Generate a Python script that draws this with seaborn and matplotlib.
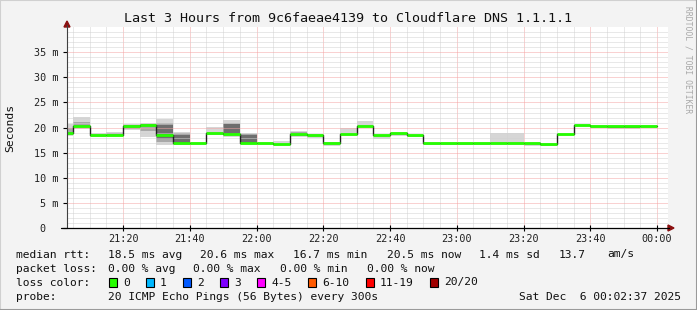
import numpy as np
import pandas as pd
import matplotlib
matplotlib.use("Agg")
import matplotlib.pyplot as plt
import seaborn as sns
from matplotlib.lines import Line2D
from matplotlib.patches import Polygon, Rectangle

# ---------------- data ----------------
# 5-minute steps starting 21:00 (minutes after 21:00), last step ends 00:00
step_start_min = list(range(0, 180, 5))
median_ms = [18.9, 20.3, 18.6, 18.6, 20.3, 20.5, 18.5, 16.9, 16.9, 18.9,
             18.7, 17.0, 17.0, 16.8, 18.7, 18.6, 17.0, 18.7, 20.3, 18.5,
             18.9, 18.5, 16.9, 16.9, 16.9, 16.9, 16.9, 17.0, 16.9, 16.8,
             18.7, 20.5, 20.3, 20.3, 20.3, 20.3]
nan = np.nan
outer_lo = [18.3, 19.8, 18.2, 18.3, 19.5, 18.2, 16.5, 16.5, nan, 18.5,
            18.2, 16.8, nan, 16.5, 18.1, 18.0, 16.3, 18.5, 20.1, 17.7,
            18.3, 18.2, 16.5, 16.5, 16.5, 16.5, 16.8, 16.8, 16.3, 16.3,
            nan, nan, 19.9, 19.8, 19.8, 19.9]
outer_hi = [20.8, 22.1, 18.9, 19.2, 20.7, 20.9, 21.8, 19.1, nan, 20.1,
            21.5, 18.9, nan, 17.3, 19.3, 18.8, 17.2, 19.9, 21.3, 18.5,
            18.9, 18.6, 16.9, 16.9, 16.9, 16.9, 19.0, 19.0, 16.9, 16.9,
            nan, nan, 20.3, 20.3, 20.3, 20.3]
mid_lo = [18.5, 20.2, nan, 18.5, 19.7, 19.4, 17.2, 16.8, nan, nan,
          18.5, 16.9, nan, nan, 18.3, nan, nan, nan, nan, nan,
          nan, nan, nan, nan, nan, nan, nan, nan, nan, nan,
          nan, nan, nan, nan, nan, nan]
mid_hi = [20.0, 21.2, nan, 19.0, 20.5, 20.8, 21.0, 18.9, nan, nan,
          21.0, 18.8, nan, nan, 19.1, nan, nan, nan, nan, nan,
          nan, nan, nan, nan, nan, nan, nan, nan, nan, nan,
          nan, nan, nan, nan, nan, nan]
inner_lo = [nan, nan, nan, nan, nan, nan, 17.8, 17.0, nan, nan,
            18.7, 17.0, nan, nan, nan, nan, nan, nan, nan, nan,
            nan, nan, nan, nan, nan, nan, nan, nan, nan, nan,
            nan, nan, nan, 19.95, 19.95, nan]
inner_hi = [nan, nan, nan, nan, nan, nan, 20.6, 18.6, nan, nan,
            20.7, 18.6, nan, nan, nan, nan, nan, nan, nan, nan,
            nan, nan, nan, nan, nan, nan, nan, nan, nan, nan,
            nan, nan, nan, 20.15, 20.15, nan]

x_tick_min = [20, 40, 60, 80, 100, 120, 140, 160, 180]
x_tick_labels = ["21:20", "21:40", "22:00", "22:20", "22:40", "23:00", "23:20", "23:40", "00:00"]
y_ticks = [0, 5, 10, 15, 20, 25, 30, 35]
y_tick_labels = ["0  ", "5 m", "10 m", "15 m", "20 m", "25 m", "30 m", "35 m"]

title = "Last 3 Hours from 9c6faeae4139 to Cloudflare DNS 1.1.1.1"
legend_rows = [
    (254.5, [(16, "median rtt:"), (107.5, "18.5 ms avg"), (200, "20.6 ms max"),
             (293, "16.7 ms min"), (386.7, "20.5 ms now"), (479.3, "1.4 ms sd"),
             (558.3, "13.7"), (607.3, "am/s")]),
    (268.5, [(16, "packet loss:"), (107.5, "0.00 % avg"), (193, "0.00 % max"),
             (280, "0.00 % min"), (367, "0.00 % now")]),
    (282.5, [(16, "loss color:")]),
    (296.5, [(16, "probe:"), (107.5, "20 ICMP Echo Pings (56 Bytes) every 300s")]),
]
loss_labels = ["0", "1", "2", "3", "4-5", "6-10", "11-19", "20/20"]
loss_colors = ["#26ff00", "#00b8ff", "#0059ff", "#7e00ff", "#ff00ff", "#ff5a00", "#ff0000", "#a00000"]
loss_box_x = [108.5, 145.5, 182.5, 219.5, 256.5, 307.5, 366, 430]
loss_text_x = [123, 160, 197, 234, 271, 322.5, 380, 444]
date_text = "Sat Dec  6 00:02:37 2025"

# ---------------- figure ----------------
W, H = 697, 310
sns.set_style("white")
plt.rcParams["font.family"] = ["DejaVu Sans Mono"]
fig = plt.figure(figsize=(W / 100, H / 100), dpi=100)
fig.patch.set_facecolor("#f3f3f3")

def fx(px):
    return px / W

def fy(py):
    return 1 - py / H

ax_l, ax_r, ax_t, ax_b = 67, 668, 27.2, 228
ax = fig.add_axes([fx(ax_l), fy(ax_b), fx(ax_r - ax_l), (ax_b - ax_t) / H])
ax.set_facecolor("white")
ax.set_xlim(3.2, 183.3)
ax.set_ylim(0, 40)
for s in ax.spines.values():
    s.set_visible(False)

# grid
ax.set_xticks(x_tick_min)
ax.set_xticks(np.arange(5, 185, 5), minor=True)
ax.set_yticks(y_ticks)
ax.set_yticks(np.arange(1, 40, 1), minor=True)
ax.grid(True, which="minor", color="#d2d2d2", linestyle=(0, (1, 1)), linewidth=0.72, zorder=2)
ax.grid(True, which="major", color="#f4a4a4", linestyle=(0, (1, 1)), linewidth=0.72, zorder=2.1)
ax.set_axisbelow(False)

t = np.array(step_start_min, dtype=float)
# smoke
ax.bar(t, np.array(outer_hi) - np.array(outer_lo), bottom=outer_lo, width=5, align="edge",
       color="#d6d6d6", linewidth=0, zorder=1)
ax.bar(t, np.array(mid_hi) - np.array(mid_lo), bottom=mid_lo, width=5, align="edge",
       color="#a8a8a8", linewidth=0, zorder=1.1)
ax.bar(t, np.array(inner_hi) - np.array(inner_lo), bottom=inner_lo, width=5, align="edge",
       color="#6e6e6e", linewidth=0, zorder=1.2)

# median line: black steps + green level segments
df = pd.DataFrame({"t": list(t) + [180.0], "v": median_ms + [median_ms[-1]]})
sns.lineplot(data=df, x="t", y="v", drawstyle="steps-post", color="#202020",
             linewidth=1.0, ax=ax, zorder=3)
ax.hlines(median_ms, t, t + 5, colors="#26ff00", linewidth=2.0, zorder=4)
ax.set_xlabel("")
ax.set_ylabel("")

# ticks
ax.set_xticklabels(x_tick_labels)
ax.set_yticklabels(y_tick_labels)
ax.tick_params(axis="x", which="major", direction="inout", length=4, width=0.8, color="black",
               pad=2, labelsize=7.3, labelcolor="#202020")
ax.tick_params(axis="x", which="minor", direction="inout", length=2, width=0.8, color="black")
ax.tick_params(axis="y", which="major", direction="out", length=3, width=0.8, color="black",
               pad=3, labelsize=7.3, labelcolor="#202020")
ax.tick_params(axis="y", which="minor", length=0)
ax.tick_params(bottom=True, left=True)

# axis lines and arrows
fig.add_artist(Line2D([fx(67), fx(67)], [fy(228), fy(25)], color="#404040", linewidth=0.8))
fig.add_artist(Line2D([fx(61), fx(669)], [fy(228), fy(228)], color="black", linewidth=0.9))
fig.add_artist(Polygon([[fx(64), fy(27)], [fx(70), fy(27)], [fx(67), fy(21)]], closed=True,
                       color="#8b1010", transform=fig.transFigure))
fig.add_artist(Polygon([[fx(668), fy(225)], [fx(668), fy(231)], [fx(674), fy(228)]], closed=True,
                       color="#8b1010", transform=fig.transFigure))

# texts
fig.text(fx(348), fy(18.5), title, ha="center", va="center", fontsize=9.6, color="#101010")
fig.text(fx(10), fy(128), "Seconds", rotation=90, ha="center", va="center", fontsize=8.2,
         color="#101010")
fig.text(fx(688), fy(60), "RRDTOOL / TOBI OETIKER", rotation=270, ha="center", va="center",
         fontsize=5.8, color="#a8a8a8")
LFS = 8.15
for yy, items in legend_rows:
    for xx, s in items:
        fig.text(fx(xx), fy(yy), s, ha="left", va="center", fontsize=LFS, color="#101010")
for bx, tx, lab, col in zip(loss_box_x, loss_text_x, loss_labels, loss_colors):
    fig.add_artist(Rectangle((fx(bx), fy(287)), 8 / W, 9 / H, facecolor=col, edgecolor="black",
                             linewidth=0.8, transform=fig.transFigure))
    fig.text(fx(tx), fy(282.5), lab, ha="left", va="center", fontsize=LFS, color="#101010")
fig.text(fx(681), fy(296.5), date_text, ha="right", va="center", fontsize=LFS, color="#101010")

# 3D-ish frame
fig.add_artist(Line2D([0, 0], [0, 1], color="#d0d0d0", linewidth=1.5))
fig.add_artist(Line2D([0, 1], [1, 1], color="#d0d0d0", linewidth=1.5))
fig.add_artist(Line2D([1, 1], [0, 1], color="#9a9a9a", linewidth=1.5))
fig.add_artist(Line2D([0, 1], [0, 0], color="#9a9a9a", linewidth=1.5))

fig.savefig("out.png", dpi=100, facecolor=fig.get_facecolor())
